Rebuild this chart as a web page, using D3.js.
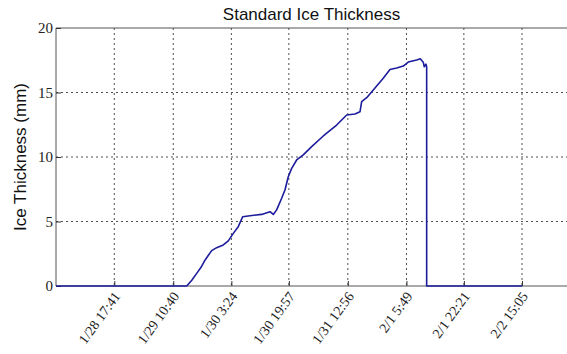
<!DOCTYPE html>
<html>
<head>
<meta charset="utf-8">
<script src="https://cdn.jsdelivr.net/npm/d3@7"></script>
<style>
  html, body { margin: 0; padding: 0; background: #fff; }
  svg { display: block; }
</style>
</head>
<body>
<svg id="chart" width="567" height="354"></svg>
<script>
// Ice thickness record (time stamps, mm)
const times = [
  "1/28 0:54", "1/29 14:32", "1/29 16:00", "1/29 17:25", "1/29 18:40", "1/29 19:48",
  "1/29 20:50", "1/29 21:44", "1/29 23:10",
  "1/30 1:04", "1/30 2:31", "1/30 3:57", "1/30 5:23", "1/30 6:39", "1/30 8:45",
  "1/30 12:07", "1/30 14:31", "1/30 15:28", "1/30 16:26", "1/30 17:53", "1/30 18:50",
  "1/30 19:47", "1/30 20:46", "1/30 22:12", "1/31 0:06", "1/31 2:31", "1/31 5:52",
  "1/31 9:43", "1/31 12:36", "1/31 14:59", "1/31 16:26", "1/31 16:55", "1/31 18:22",
  "1/31 20:45", "1/31 23:08", "2/1 1:04", "2/1 3:00", "2/1 4:54", "2/1 6:20",
  "2/1 8:45", "2/1 9:47", "2/1 10:39", "2/1 10:57", "2/1 11:26", "2/1 11:38",
  "2/1 11:38", "2/2 15:05"
];
const thickness = [
  0, 0, 0.45, 0.98, 1.45, 2.0,
  2.4, 2.74, 2.97,
  3.18, 3.5, 4.08, 4.6, 5.37, 5.45,
  5.55, 5.76, 5.55, 5.9, 6.8, 7.44,
  8.47, 9.12, 9.77, 10.16, 10.8, 11.63,
  12.48, 13.26, 13.33, 13.5, 14.3, 14.6,
  15.35, 16.1, 16.78, 16.9, 17.05, 17.36,
  17.52, 17.62, 17.35, 17.0, 17.2, 17.0,
  0, 0
];
const xTickLabels = ["1/28 17:41", "1/29 10:40", "1/30 3:24", "1/30 19:57",
                     "1/31 12:56", "2/1 5:49", "2/1 22:21", "2/2 15:05"];
const yTicks = [0, 5, 10, 15, 20];

const parse = s => {
  const [d, t] = s.split(" ");
  const [mo, da] = d.split("/").map(Number);
  const [h, mi] = t.split(":").map(Number);
  return new Date(2013, mo - 1, da, h, mi);
};

const data = times.map((t, i) => ({ t: parse(t), v: thickness[i] }));
const tickDates = xTickLabels.map(parse);

const svg = d3.select("#chart");
const plotL = 56, plotR = 568, plotT = 28, plotB = 286;

const x = d3.scaleTime()
  .domain([parse("1/28 0:54"), parse("2/3 4:20")])
  .range([plotL, plotR]);
const y = d3.scaleLinear().domain([0, 20]).range([plotB, plotT]);

// grid
const grid = svg.append("g").attr("stroke", "#222").attr("stroke-width", 0.8)
  .attr("stroke-dasharray", "2,3");
grid.selectAll("line.v").data(tickDates).join("line")
  .attr("x1", d => x(d)).attr("x2", d => x(d))
  .attr("y1", plotT).attr("y2", plotB);
grid.selectAll("line.h").data(yTicks.filter(v => v > 0 && v < 20)).join("line")
  .attr("x1", plotL).attr("x2", plotR)
  .attr("y1", d => y(d)).attr("y2", d => y(d));

// frame
svg.append("path")
  .attr("d", `M${plotR},${plotT}H${plotL}V${plotB}H${plotR}`)
  .attr("fill", "none").attr("stroke", "#555").attr("stroke-width", 1);

// x axis
const xAxis = d3.axisBottom(x).tickValues(tickDates)
  .tickFormat((d, i) => xTickLabels[i]).tickSize(-5).tickPadding(6);
const gx = svg.append("g").attr("transform", `translate(0,${plotB})`).call(xAxis);
gx.select(".domain").remove();
gx.selectAll(".tick line").attr("stroke", "#333");
gx.selectAll("text")
  .attr("font-family", "Liberation Serif, Times New Roman, serif")
  .attr("font-size", 14).attr("fill", "#222")
  .attr("text-anchor", "end")
  .attr("transform", "translate(-1,5) rotate(-54)")
  .attr("dy", "0.35em").attr("dx", "0").attr("y", 4).attr("x", 0);

// y axis
const yAxis = d3.axisLeft(y).tickValues(yTicks).tickSize(-5).tickPadding(3);
const gy = svg.append("g").attr("transform", `translate(${plotL},0)`).call(yAxis);
gy.select(".domain").remove();
gy.selectAll(".tick line").attr("stroke", "#333");
gy.selectAll("text")
  .attr("font-family", "Liberation Serif, Times New Roman, serif")
  .attr("font-size", 15).attr("fill", "#222");

// line
const line = d3.line().x(d => x(d.t)).y(d => y(d.v));
svg.append("path").datum(data)
  .attr("d", line)
  .attr("fill", "none").attr("stroke", "#1c1c9c").attr("stroke-width", 1.6)
  .attr("stroke-linejoin", "round");

// title and labels
svg.append("text").attr("x", (plotL + 567) / 2).attr("y", 20)
  .attr("text-anchor", "middle")
  .attr("font-family", "Liberation Sans, Arial, sans-serif")
  .attr("font-size", 17).attr("fill", "#111")
  .text("Standard Ice Thickness");

svg.append("text")
  .attr("transform", `translate(26,${(plotT + plotB) / 2}) rotate(-90)`)
  .attr("text-anchor", "middle")
  .attr("font-family", "Liberation Sans, Arial, sans-serif")
  .attr("font-size", 17).attr("fill", "#111")
  .text("Ice Thickness (mm)");
</script>
</body>
</html>
